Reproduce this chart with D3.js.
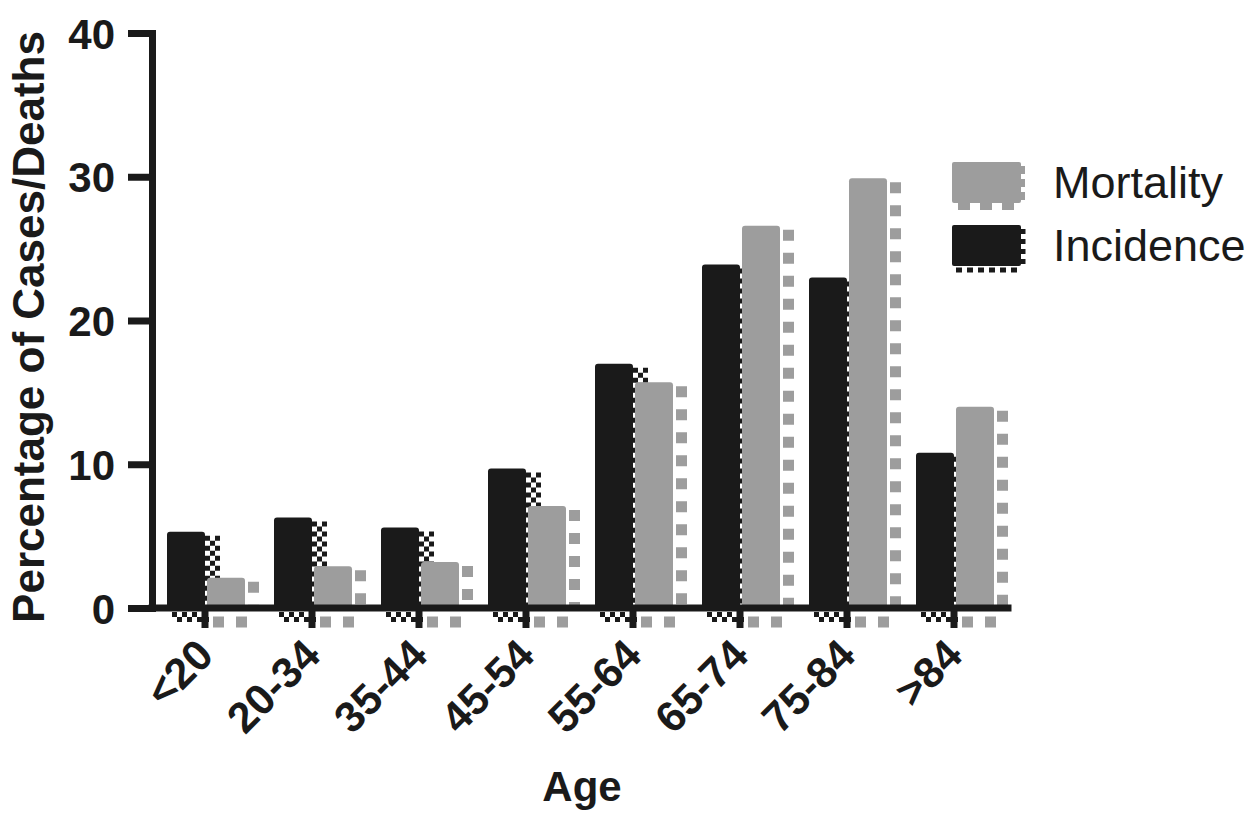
<!DOCTYPE html>
<meta charset="utf-8">
<style>
body { margin: 0; background: #fff; }
text { font-family: "Liberation Sans", Arial, sans-serif; fill: #1a1a1a; }
.axis path, .axis line { stroke: #1a1a1a; stroke-width: 7px; }
.axis path { stroke-linecap: square; }
.axis text { font-size: 42px; font-weight: bold; }
</style>
<svg width="1260" height="820"></svg>
<script src="https://d3js.org/d3.v7.min.js"></script>
<script>

var ages = ["<20", "20-34", "35-44", "45-54", "55-64", "65-74", "75-84", ">84"];
var incidence = [5.3, 6.3, 5.6, 9.7, 17.0, 23.9, 23.0, 10.8];
var mortality = [2.1, 2.9, 3.2, 7.1, 15.7, 26.6, 29.9, 14.0];
var series = ["Incidence", "Mortality"];
var yTicks = [0, 10, 20, 30, 40];

var black = "#1a1a1a", gray = "#9d9d9d";

var svg = d3.select("svg");
var base = 608;

var x = d3.scaleBand()
    .domain(ages)
    .range([151.5, 151.5 + 107 * 8]);

var xs = d3.scaleBand()
    .domain(series)
    .range([-38, 40])
    .paddingInner(0.05);

var y = d3.scaleLinear()
    .domain([0, 40])
    .range([base, 33]);

var shadows = svg.append("g"),
    bars = svg.append("g");

// the checker / square shadow that sits right of and under each bar
function shadow(kind, x0, x1, top, bottom) {
  if (kind == "Incidence") {
    [0, 1, 2].forEach(function(i) {
      shadows.append("line")
          .attr("x1", x1 + 2.5 + i * 5).attr("x2", x1 + 2.5 + i * 5)
          .attr("y1", top + 4).attr("y2", bottom)
          .attr("stroke", black).attr("stroke-width", 5)
          .attr("stroke-dasharray", "5,5")
          .attr("stroke-dashoffset", i % 2 ? 5 : 0);
    });
    [0, 1].forEach(function(i) {
      shadows.append("line")
          .attr("x1", x0 + 5).attr("x2", x1 + 4)
          .attr("y1", base + 6.5 + i * 5).attr("y2", base + 6.5 + i * 5)
          .attr("stroke", black).attr("stroke-width", 5)
          .attr("stroke-dasharray", "5,5")
          .attr("stroke-dashoffset", i % 2 ? 5 : 0);
    });
  } else {
    shadows.append("line")
        .attr("x1", x1 + 8.5).attr("x2", x1 + 8.5)
        .attr("y1", top + 4).attr("y2", bottom)
        .attr("stroke", gray).attr("stroke-width", 11)
        .attr("stroke-dasharray", "11,12");
    shadows.append("line")
        .attr("x1", x0 + 6).attr("x2", x1 + 3)
        .attr("y1", base + 14).attr("y2", base + 14)
        .attr("stroke", gray).attr("stroke-width", 11)
        .attr("stroke-dasharray", "11,12");
  }
}

var rows = [];
ages.forEach(function(a, i) {
  rows.push({age: a, key: "Incidence", value: incidence[i]});
  rows.push({age: a, key: "Mortality", value: mortality[i]});
});

rows.forEach(function(d) {
  var cx = x(d.age) + x.bandwidth() / 2,
      x0 = cx + xs(d.key),
      x1 = x0 + xs.bandwidth();
  shadow(d.key, x0, x1, y(d.value), base);
});

bars.selectAll("rect")
    .data(rows)
  .enter().append("rect")
    .attr("x", function(d) { return x(d.age) + x.bandwidth() / 2 + xs(d.key); })
    .attr("y", function(d) { return y(d.value); })
    .attr("width", xs.bandwidth())
    .attr("height", function(d) { return base - y(d.value) + 3; })
    .attr("rx", 3)
    .attr("fill", function(d) { return d.key == "Incidence" ? black : gray; });

// axes
svg.append("g")
    .attr("class", "axis")
    .attr("transform", "translate(152,0)")
    .call(d3.axisLeft(y).tickValues(yTicks).tickSize(24).tickSizeOuter(0).tickPadding(13))
    .selectAll("text").attr("dy", "0.36em");

var xAxis = svg.append("g")
    .attr("class", "axis")
    .attr("transform", "translate(0," + base + ")")
    .call(d3.axisBottom(x).tickSize(20).tickSizeOuter(0));

xAxis.select(".domain").attr("d", "M152,0H1008");

xAxis.selectAll("text")
    .attr("text-anchor", "end")
    .attr("dy", "0.35em")
    .style("font-size", "43px")
    .attr("transform", "translate(0,39) rotate(-45)")
    .attr("x", 0).attr("y", 0);

// titles
svg.append("text")
    .attr("transform", "translate(44,327) rotate(-90)")
    .attr("text-anchor", "middle")
    .style("font-size", "44px")
    .style("font-weight", "bold")
    .text("Percentage of Cases/Deaths");

svg.append("text")
    .attr("x", 582).attr("y", 801)
    .attr("text-anchor", "middle")
    .style("font-size", "42px")
    .style("font-weight", "bold")
    .text("Age");

// legend
var legendTop = [162, 225];
["Mortality", "Incidence"].forEach(function(k, i) {
  var x0 = 952, x1 = 1021, t = legendTop[i], b = t + 41;
  if (k == "Mortality") {
    shadows.append("line")
        .attr("x1", x1 + 1).attr("x2", x1 + 1)
        .attr("y1", t + 4).attr("y2", b)
        .attr("stroke", gray).attr("stroke-width", 6)
        .attr("stroke-dasharray", "8,5");
    shadows.append("line")
        .attr("x1", x0 + 6).attr("x2", x1)
        .attr("y1", b + 3).attr("y2", b + 3)
        .attr("stroke", gray).attr("stroke-width", 8)
        .attr("stroke-dasharray", "12,10");
  } else {
    shadows.append("line")
        .attr("x1", x1 + 2).attr("x2", x1 + 2)
        .attr("y1", t + 4).attr("y2", b)
        .attr("stroke", black).attr("stroke-width", 5)
        .attr("stroke-dasharray", "5,5");
    shadows.append("line")
        .attr("x1", x0 + 4).attr("x2", x1)
        .attr("y1", b + 4).attr("y2", b + 4)
        .attr("stroke", black).attr("stroke-width", 5)
        .attr("stroke-dasharray", "6,5");
  }
  bars.append("rect")
      .attr("x", x0).attr("y", t)
      .attr("width", x1 - x0).attr("height", b - t)
      .attr("rx", 2)
      .attr("fill", k == "Incidence" ? black : gray);
  svg.append("text")
      .attr("x", 1053).attr("y", t + 36)
      .style("font-size", "45px")
      .text(k);
});

</script>
